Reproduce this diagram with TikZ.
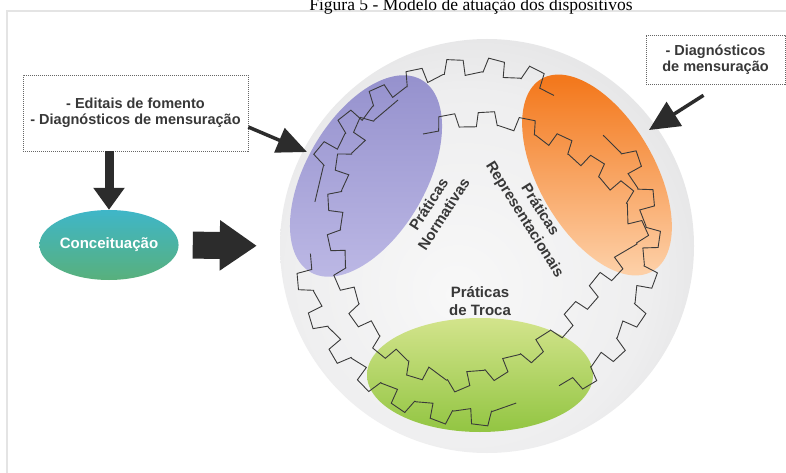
\documentclass[tikz,border=0pt]{standalone}
\usepackage{fontspec}
\setmainfont{Liberation Sans}
\newfontfamily\titlefont{Liberation Serif}
\usetikzlibrary{shapes.geometric,arrows.meta,decorations,shadings}

\definecolor{framecol}{HTML}{E4E4E4}
\definecolor{ballc0}{HTML}{F8F8F8}
\definecolor{ballc1}{HTML}{EEEEEF}
\definecolor{ballc2}{HTML}{DDDDDE}
\definecolor{ballc3}{HTML}{CBCCCE}
\definecolor{purpleA}{HTML}{938FCC}
\definecolor{purpleB}{HTML}{BEBAE6}
\definecolor{orangeA}{HTML}{F3781C}
\definecolor{orangeM}{HTML}{F89E5A}
\definecolor{orangeB}{HTML}{FDCFA6}
\definecolor{greenA}{HTML}{D3E48C}
\definecolor{greenB}{HTML}{92C542}
\definecolor{concA}{HTML}{3FB6C8}
\definecolor{concB}{HTML}{58B07C}
\definecolor{labcol}{HTML}{383838}
\definecolor{arrowcol}{HTML}{2C2C2C}
\definecolor{gearcol}{HTML}{3A3A3A}
\definecolor{dashcol}{HTML}{666666}

\pgfdeclaredecoration{gearteeth}{initial}{
  \state{initial}[width=\pgfdecorationsegmentlength]{
    \pgfpathlineto{\pgfqpoint{0.42\pgfdecorationsegmentlength}{0pt}}
    \pgfpathlineto{\pgfqpoint{0.49\pgfdecorationsegmentlength}{\pgfdecorationsegmentamplitude}}
    \pgfpathlineto{\pgfqpoint{0.92\pgfdecorationsegmentlength}{\pgfdecorationsegmentamplitude}}
    \pgfpathlineto{\pgfqpoint{0.97\pgfdecorationsegmentlength}{0pt}}
    \pgfpathlineto{\pgfqpoint{\pgfdecorationsegmentlength}{0pt}}
  }
  \state{final}{\pgfpathlineto{\pgfpointdecoratedpathlast}}
}

\pgfdeclareradialshading{ballshade}{\pgfpoint{-4bp}{-6bp}}{color(0bp)=(ballc0); color(22bp)=(ballc1); color(36bp)=(ballc2); color(44bp)=(ballc3); color(50bp)=(ballc3)}

\tikzset{
  dbox/.style={draw=dashcol, line width=0.6pt, dash pattern=on 1.2pt off 0.8pt, align=center,
    font=\bfseries\fontsize{14.5}{16.5}\selectfont, text=labcol, inner sep=0pt},
  lab/.style={font=\bfseries\fontsize{15}{18}\selectfont, text=labcol, align=center, inner sep=0pt},
  gearline/.style={draw=gearcol, line width=0.9pt, line join=miter, decorate,
    decoration={gearteeth, segment length=38pt, amplitude=#1}},
}

\begin{document}
\begin{tikzpicture}[x=1pt,y=-1pt]
\useasboundingbox (0,0) rectangle (786,473);
\fill[white] (0,0) rectangle (786,473);
\draw[framecol, line width=1.2pt] (7,474) -- (7,11) -- (787,11);

\node[font=\titlefont\fontsize{17.5}{20}\selectfont, anchor=base, inner sep=0pt] (title) at (471,11) {Figura 5 - Modelo de atuação dos dispositivos};

% sphere
\node[shade, shading=ballshade, circle, inner sep=0pt, minimum size=414pt] (ball) at (487,246) {};

% coloured ellipses
\begin{scope}[shift={(366,176)}, rotate=60]
  \shade[top color=purpleA, bottom color=purpleB] (0,0) ellipse [x radius=111, y radius=60];
\end{scope}
\begin{scope}[shift={(597,175)}, rotate=-60]
  \shade[top color=orangeA, middle color=orangeM, bottom color=orangeB] (0,0) ellipse [x radius=111, y radius=58];
\end{scope}
\shade[top color=greenA, bottom color=greenB] (480,375) ellipse [x radius=113, y radius=57];

% gears
\draw[gearline=-15pt] plot[domain=62:166, samples=60, variable=\t] ({476+166*cos(\t)},{242-166*sin(\t)});
\draw[gearline=-15pt] plot[domain=184:284, samples=60, variable=\t] ({476+166*cos(\t)},{242-166*sin(\t)});
\draw[gearline=-15pt] plot[domain=300:400, samples=60, variable=\t] ({476+166*cos(\t)},{242-166*sin(\t)});
\draw[gearline=14pt] plot coordinates {(423,134) (455,128) (490,126) (520,132) (548,145) (575,162) (600,182) (618,202) (628,224) (626,245) (610,262) (590,285) (568,310) (543,333) (513,352) (480,366) (445,372) (412,362) (385,340) (365,312) (352,282) (345,250) (343,215) (348,180) (362,148) (382,120) (398,100)};

% labels
\node[lab, rotate=57] (norm) at (436,209) {Práticas\\Normativas};
\node[lab, rotate=-58] (repr) at (532,215) {Práticas\\Representacionais};
\node[lab] (troca) at (480,301) {Práticas\\de Troca};

% left side
\node[dbox, minimum width=225pt, minimum height=76pt] (lbox) at (135.5,113) {- Editais de fomento\\- Diagnósticos de mensuração};
\node[dbox, minimum width=139pt, minimum height=49pt] (rbox) at (715.5,59.5) {- Diagnósticos\\de mensuração};
\node[ellipse, minimum width=126pt, minimum height=70pt, inner sep=0pt, top color=concA, bottom color=concB,
  font=\bfseries\fontsize{15}{17}\selectfont, text=white] (conc) at (109,245) {Conceituação};

% arrows
\draw[arrowcol, line width=9pt, -{Triangle[length=22pt,width=30pt]}] (lbox.south -| conc.north) -- (conc.north);
\draw[arrowcol, line width=27pt, -{Triangle[length=37pt,width=48pt]}, shorten <=14pt, shorten >=23pt] (conc.east) -- (ball.west);
\coordinate (t1) at (307,152);
\draw[arrowcol, line width=3.5pt, -{Triangle[length=30pt,width=26pt]}] ([yshift=-14pt]lbox.east) -- (t1);
\coordinate (t2) at (649,130);
\draw[arrowcol, line width=3.5pt, -{Triangle[length=30pt,width=28pt]}] ([xshift=-12pt,yshift=-11pt]rbox.south) -- (t2);
\end{tikzpicture}
\end{document}
